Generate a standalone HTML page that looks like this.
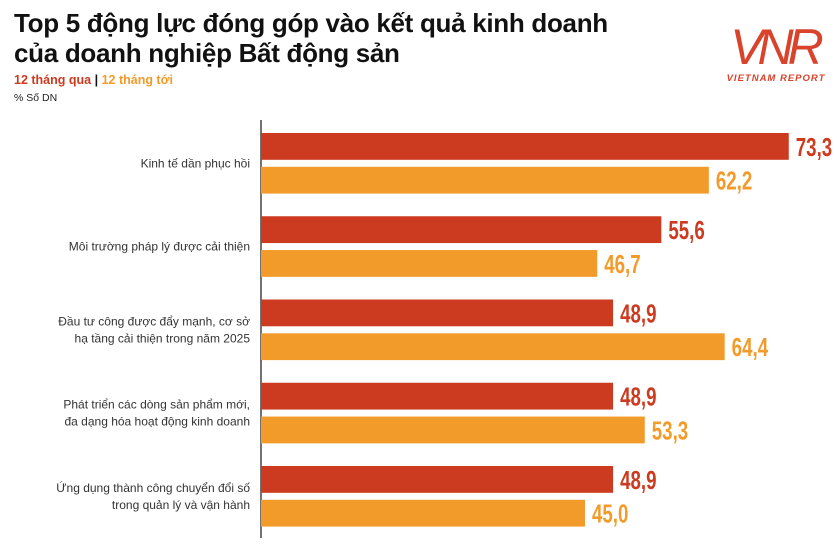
<!DOCTYPE html>
<html><head><meta charset="utf-8">
<style>
body{margin:0;width:837px;height:559px;background:#fff;font-family:"Liberation Sans",sans-serif;overflow:hidden;position:relative}
.t{position:absolute;left:14px;top:8px;font-size:26px;font-weight:bold;line-height:30px;color:#111;letter-spacing:-0.3px}
.leg{position:absolute;left:14px;top:73px;font-size:12.5px;font-weight:bold}
.unit{position:absolute;left:14px;top:92px;font-size:10.5px;color:#222}
</style></head><body>
<div class="t">Top 5 động lực đóng góp vào kết quả kinh doanh<br>của doanh nghiệp Bất động sản</div>
<div class="leg"><span style="color:#CC3B20">12 tháng qua</span> <span style="color:#111">|</span> <span style="color:#F39B2A">12 tháng tới</span></div>
<div class="unit">% Số DN</div>
<svg style="position:absolute;left:712px;top:12px" width="125" height="75">
<text x="62" y="52" text-anchor="middle" font-family="Liberation Sans" font-size="50" fill="#D9432B" font-style="italic" letter-spacing="-6">VNR</text>
<text x="64" y="69" text-anchor="middle" font-family="Liberation Sans" font-size="9.5" font-weight="bold" fill="#D9432B" font-style="italic" letter-spacing="1">VIETNAM REPORT</text>
</svg>
<svg id="chart" style="position:absolute;left:0;top:0" width="837" height="559"></svg>
<script>
const categories=[["Kinh tế dần phục hồi"],["Môi trường pháp lý được cải thiện"],["Đầu tư công được đẩy mạnh, cơ sở","hạ tầng cải thiện trong năm 2025"],["Phát triển các dòng sản phẩm mới,","đa dạng hóa hoạt động kinh doanh"],["Ứng dụng thành công chuyển đổi số","trong quản lý và vận hành"]];
const pastValues=[73.3,55.6,48.9,48.9,48.9];
const nextValues=[62.2,46.7,64.4,53.3,45.0];
const valueLabelsPast=["73,3","55,6","48,9","48,9","48,9"];
const valueLabelsNext=["62,2","46,7","64,4","53,3","45,0"];
const NS="http://www.w3.org/2000/svg";
const svg=document.getElementById('chart');
const x0=261,k=7.2,top0=133,pitch=83.25,bh=26.8,gap=7;
function xs(v){return x0+v*k;}
function mk(t,a){const e=document.createElementNS(NS,t);for(const q in a)e.setAttribute(q,a[q]);svg.appendChild(e);return e;}
const ax=mk('line',{x1:261,y1:120,x2:261,y2:538,stroke:'#444','stroke-width':1.5});


categories.forEach((c,i)=>{
 const y=top0+i*pitch;
 [[pastValues[i],valueLabelsPast[i],'#CC3B20',y,'past'],[nextValues[i],valueLabelsNext[i],'#F39B2A',y+bh+gap,'next']].forEach(([v,l,col,yy,s])=>{
  const r=mk('rect',{x:261,y:yy,width:xs(v)-261,height:bh,fill:col});
  
  
  const t=mk('text',{x:0,y:0,fill:col,'font-size':26,'font-weight':'bold',transform:`translate(${xs(v)+7},${yy+bh/2+9.5}) scale(0.72,1)`});
  t.textContent=l;
  
  
 });
 const cy=y+bh+gap/2;
 const n=c.length;
 c.forEach((line,j)=>{
  const t=mk('text',{x:250,y:cy+4+(j-(n-1)/2)*17,'text-anchor':'end','font-size':12,fill:'#333'});
  t.textContent=line;
  
  
 });
});
</script>
</body></html>
